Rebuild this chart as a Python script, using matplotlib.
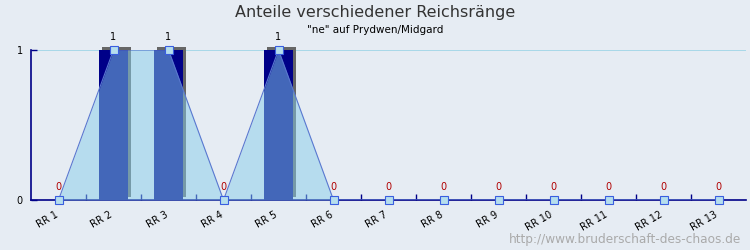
import numpy as np
import matplotlib.pyplot as plt
import matplotlib.patheffects as pe
import matplotlib.transforms as mtransforms

# Anteile der Reichsränge für "ne" auf Prydwen/Midgard
categories = ["RR 1", "RR 2", "RR 3", "RR 4", "RR 5", "RR 6", "RR 7",
              "RR 8", "RR 9", "RR 10", "RR 11", "RR 12", "RR 13"]
values = [0, 1, 1, 0, 1, 0, 0, 0, 0, 0, 0, 0, 0]

title = "Anteile verschiedener Reichsränge"
subtitle = '"ne" auf Prydwen/Midgard'
footer = "http://www.bruderschaft-des-chaos.de"

bg = "#e6ecf3"
navy = "#000088"

fig = plt.figure(figsize=(7.5, 2.5), dpi=100, facecolor=bg)
ax = fig.add_axes([31 / 750, 0.2, 715 / 750, 0.6])
ax.set_facecolor(bg)

x = np.arange(len(categories))
v = np.array(values)

# Linie bei 1
ax.axhline(1, color="#a8d8e8", lw=1.4, zorder=1)

# Balken mit grauem Schatten
bars = ax.bar(x, v, width=0.53, color=navy, zorder=2)
for b in bars:
    b.set_clip_on(False)
    b.set_path_effects([pe.SimplePatchShadow(offset=(2.2, 2.2), shadow_rgbFace="#666666", alpha=1),
                        pe.Normal()])

# Fläche unter der Linie
ax.fill_between(x, v, 0, color="#87ceeb", alpha=0.5, lw=0, zorder=3)
ax.plot(x, v, color="#5a78d0", lw=0.8, zorder=4)
ax.plot(x, v, ls="none", marker="s", ms=5.5, mfc="#b5deed", mec="#3a5ee0", mew=0.8,
        zorder=5, clip_on=False)

# Wertbeschriftungen
for xi, vi in zip(x, v):
    ax.annotate(str(vi), (xi, vi), xytext=(0, 6), textcoords="offset points",
                ha="center", va="bottom", fontsize=7,
                color="black" if vi > 0 else "#b00000")

ax.set_xlim(-0.5, len(categories) - 0.5)
ax.set_ylim(0, 1)

for s in ["top", "right"]:
    ax.spines[s].set_visible(False)
for s in ["left", "bottom"]:
    ax.spines[s].set_color(navy)
    ax.spines[s].set_linewidth(1.2)

ax.set_xticks(x)
ax.set_xticklabels(categories, rotation=30, ha="right", rotation_mode="anchor", fontsize=7)
ax.tick_params(axis="x", which="major", length=0, pad=7)
shift = mtransforms.ScaledTranslation(-4 / 100, 0, fig.dpi_scale_trans)
for lbl in ax.get_xticklabels():
    lbl.set_transform(lbl.get_transform() + shift)
ax.set_xticks(x[:-1] + 0.5, minor=True)
ax.tick_params(axis="x", which="minor", direction="in", length=4, color=navy, width=1)

ax.set_yticks([0, 1])
ax.set_yticklabels(["0", "1"], fontsize=7)
ax.tick_params(axis="y", direction="in", length=4, color=navy, width=1, pad=6)

fig.text(0.5, 1 - 12 / 250, title, ha="center", va="center", fontsize=11.5, color="#333333")
fig.text(0.5, 1 - 30 / 250, subtitle, ha="center", va="center", fontsize=7.5, color="black")
fig.text(741 / 750, 1 - 240 / 250, footer, ha="right", va="center", fontsize=8.7, color="#aaaaaa")

fig.savefig("out.png", dpi=100, facecolor=bg)
